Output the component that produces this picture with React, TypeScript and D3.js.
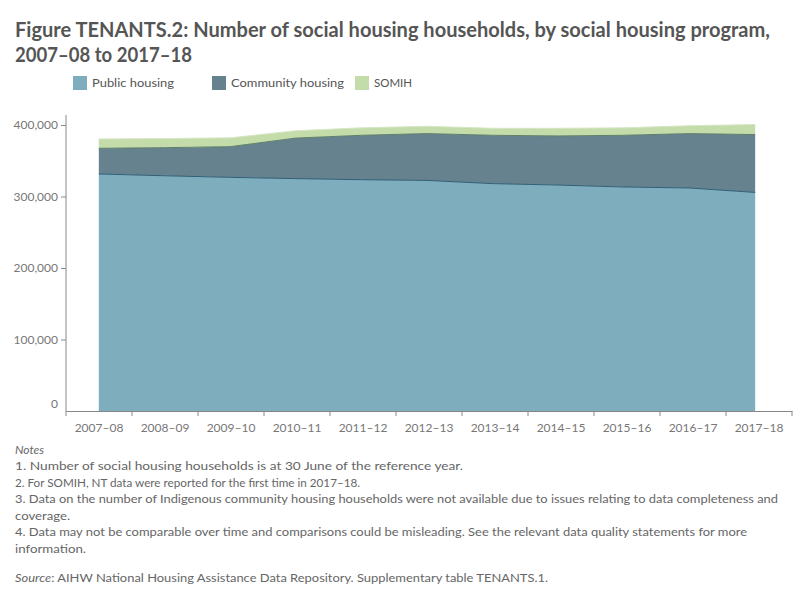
import { useEffect, useRef } from 'react';
import * as d3 from 'd3';

const years = ['2007–08', '2008–09', '2009–10', '2010–11', '2011–12', '2012–13', '2013–14', '2014–15', '2015–16', '2016–17', '2017–18'];
const publicHousing = [331500, 329000, 326800, 325000, 323500, 322500, 318000, 316000, 313300, 311900, 305700];
const communityHousing = [35900, 39300, 42900, 56700, 62100, 65500, 67600, 68700, 72300, 76100, 80900];
const somih = [13100, 12700, 12300, 10300, 10400, 10200, 9800, 10700, 10400, 11000, 14000];
const seriesNames = ['Public housing', 'Community housing', 'SOMIH'];
const yTicks = [0, 100000, 200000, 300000, 400000];

const titleLines = [
  { text: 'Figure TENANTS.2: Number of social housing households, by social housing program,', w: 755 },
  { text: '2007–08 to 2017–18', w: 177 },
];
const noteLines = [
  { text: '1. Number of social housing households is at 30 June of the reference year.', w: 448 },
  { text: '2. For SOMIH, NT data were reported for the first time in 2017–18.', w: 345 },
  { text: '3. Data on the number of Indigenous community housing households were not available due to issues relating to data completeness and', w: 763 },
  { text: 'coverage.', w: 55 },
  { text: '4. Data may not be comparable over time and comparisons could be misleading. See the relevant data quality statements for more', w: 732 },
  { text: 'information.', w: 71 },
];

const fills = ['#7eaebe', '#67828f', '#c4dcaa'];
const edges = ['#2f5f77', '#5f7f6a', '#d6e6c6'];
const FONT = 'Lato, "Open Sans", sans-serif';

export default function App() {
  const svgRef = useRef<SVGSVGElement | null>(null);

  useEffect(() => {
    if (!svgRef.current) return;
    const svg = d3.select(svgRef.current);
    svg.selectAll('*').remove();

    const width = 800;
    const height = 600;
    const margin = { top: 125, right: 8, bottom: 189, left: 66 };

    svg.attr('viewBox', `0 0 ${width} ${height}`).style('font-family', FONT);
    svg.append('rect').attr('width', width).attr('height', height).attr('fill', '#fff');

    // title
    titleLines.forEach((l, i) => {
      svg
        .append('text')
        .attr('x', 15)
        .attr('y', 37 + i * 25)
        .attr('fill', '#555')
        .attr('font-size', 20)
        .attr('font-weight', 700)
        .attr('textLength', l.w)
        .attr('lengthAdjust', 'spacingAndGlyphs')
        .text(l.text);
    });

    // legend
    const legendX = [73, 212, 355];
    const legendW = [82, 113, 38];
    seriesNames.forEach((name, i) => {
      svg.append('rect').attr('x', legendX[i]).attr('y', 76).attr('width', 14).attr('height', 14).attr('fill', fills[i]);
      svg
        .append('text')
        .attr('x', legendX[i] + 19)
        .attr('y', 87)
        .attr('fill', '#555')
        .attr('font-size', 12)
        .attr('textLength', legendW[i])
        .attr('lengthAdjust', 'spacingAndGlyphs')
        .text(name);
    });

    // points sit in the middle of each year band
    const band = d3
      .scaleBand<string>()
      .domain(years)
      .range([margin.left, width - margin.right]);
    const x = d3
      .scalePoint<string>()
      .domain(years)
      .range([margin.left, width - margin.right - 4])
      .padding(0.5);
    const y = d3
      .scaleLinear()
      .domain([0, 400000])
      .range([height - margin.bottom, margin.top]);

    const table = years.map((yr, i) => ({
      year: yr,
      'Public housing': publicHousing[i],
      'Community housing': communityHousing[i],
      SOMIH: somih[i],
    }));
    const stacked = d3.stack<any>().keys(seriesNames)(table);

    const area = d3
      .area<any>()
      .x((d) => x(d.data.year) ?? 0)
      .y0((d) => y(d[0]))
      .y1((d) => y(d[1]));
    const topLine = d3
      .line<any>()
      .x((d) => x(d.data.year) ?? 0)
      .y((d) => y(d[1]));

    const g = svg.append('g');
    stacked.forEach((s, i) => {
      g.append('path').datum(s).attr('d', area).attr('fill', fills[i]);
    });
    stacked.forEach((s, i) => {
      g.append('path')
        .datum(s)
        .attr('d', topLine)
        .attr('fill', 'none')
        .attr('stroke', edges[i])
        .attr('stroke-width', 1);
    });

    // y axis
    const yAxis = svg
      .append('g')
      .attr('transform', `translate(${margin.left},0)`)
      .call(
        d3
          .axisLeft(y)
          .tickValues(yTicks)
          .tickSize(5)
          .tickPadding(3)
          .tickFormat((v) => d3.format(',')(v as number))
      );
    yAxis.select('.domain').attr('d', `M0,${margin.top - 10}V${height - margin.bottom + 0.5}`).style('stroke', '#888');
    yAxis.selectAll('line').style('stroke', '#888');
    yAxis.selectAll('text').style('fill', '#777').style('font-size', '12px').style('font-family', FONT);
    // the zero label is lifted off the x axis
    yAxis
      .selectAll<SVGGElement, number>('.tick')
      .filter((d) => d === 0)
      .select('text')
      .attr('y', -7);
    yAxis
      .selectAll<SVGGElement, number>('.tick')
      .filter((d) => d === 0)
      .select('line')
      .remove();

    // x axis
    const xAxis = svg
      .append('g')
      .attr('transform', `translate(0,${height - margin.bottom})`)
      .call(d3.axisBottom(band).tickSize(0).tickPadding(12));
    xAxis.select('.domain').style('stroke', '#888');
    xAxis.selectAll('text').style('fill', '#777').style('font-size', '12px').style('font-family', FONT);
    xAxis
      .selectAll('line.sep')
      .data([...years.map((d) => band(d) ?? 0), width - margin.right])
      .join('line')
      .attr('class', 'sep')
      .attr('x1', (d) => d)
      .attr('x2', (d) => d)
      .attr('y1', 0)
      .attr('y2', 5)
      .attr('stroke', '#888');

    // notes
    svg
      .append('text')
      .attr('x', 15)
      .attr('y', 454)
      .attr('fill', '#666')
      .attr('font-size', 12)
      .attr('font-style', 'italic')
      .text('Notes');
    noteLines.forEach((l, i) => {
      svg
        .append('text')
        .attr('x', 15)
        .attr('y', 470 + i * 16.5)
        .attr('fill', '#666')
        .attr('font-size', 12)
        .attr('textLength', l.w)
        .attr('lengthAdjust', 'spacingAndGlyphs')
        .text(l.text);
    });
    const src = svg
      .append('text')
      .attr('x', 15)
      .attr('y', 582)
      .attr('fill', '#666')
      .attr('font-size', 12)
      .attr('textLength', 533)
      .attr('lengthAdjust', 'spacingAndGlyphs');
    src.append('tspan').attr('font-style', 'italic').text('Source');
    src.append('tspan').text(': AIHW National Housing Assistance Data Repository. Supplementary table TENANTS.1.');
  }, []);

  return (
    <svg
      ref={svgRef}
      width={800}
      height={600}
      style={{ position: 'absolute', left: 0, top: 0, display: 'block' }}
      role="img"
      aria-label="Stacked area chart"
    />
  );
}
